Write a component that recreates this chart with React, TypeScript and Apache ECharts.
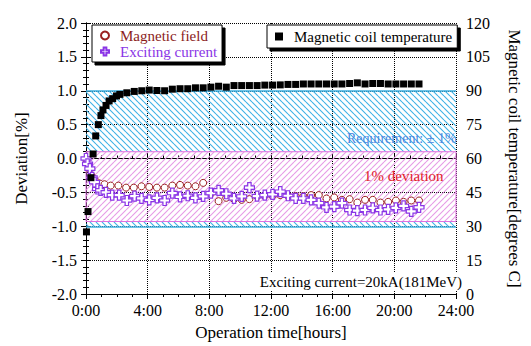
import React, { useEffect, useRef } from "react";
import * as echarts from "echarts";

// ---- data ----
const tempTimes = [0.03, 0.13, 0.32, 0.46, 0.63, 0.8, 0.97, 1.1, 1.3, 1.5, 1.73, 1.98, 2.2, 2.65, 3.13, 3.62, 4.1, 4.6, 5.1, 5.6, 6.1, 6.6, 7.1, 7.6, 8.1, 8.6, 9.1, 9.6, 10.1, 10.6, 11.1, 11.6, 12.1, 12.6, 13.1, 13.6, 14.1, 14.6, 15.1, 15.6, 16.1, 16.6, 17.1, 17.6, 18.1, 18.6, 19.1, 19.6, 20.1, 20.6, 21.1, 21.6];
const tempValues = [27.5, 36.5, 51.5, 62, 70, 75, 79, 81.5, 83.5, 85.5, 86.5, 87.7, 88.4, 89.1, 89.7, 90, 90.3, 90.1, 90, 90.7, 90.9, 90.9, 91.3, 91.3, 91.6, 92, 91.6, 92.3, 92.3, 92.3, 92.3, 92.5, 92.5, 92.6, 92.8, 92.8, 93, 93, 93, 93, 93, 93, 93.2, 93.5, 93, 93.2, 93.2, 93, 93, 93, 93, 93];

const fieldTimes = [0.03, 0.2, 0.35, 0.5, 0.7, 0.9, 1.2, 1.6, 2.1, 2.6, 3.1, 3.6, 4.1, 4.6, 5.1, 5.6, 6.1, 6.6, 7.1, 7.6, 8.1, 8.6, 9.1, 9.6, 10.1, 10.6, 11.1, 11.6, 12.1, 12.6, 13.1, 13.6, 14.1, 14.6, 15.1, 15.6, 16.1, 16.6, 17.1, 17.6, 18.1, 18.6, 19.1, 19.6, 20.1, 20.6, 21.1, 21.6];
const fieldValues = [-0.02, -0.15, -0.25, -0.3, -0.35, -0.37, -0.38, -0.4, -0.4, -0.43, -0.43, -0.41, -0.42, -0.43, -0.43, -0.4, -0.39, -0.4, -0.41, -0.36, -0.52, -0.63, -0.58, -0.6, -0.61, -0.6, -0.56, -0.55, -0.55, -0.54, -0.55, -0.555, -0.555, -0.54, -0.54, -0.59, -0.575, -0.61, -0.6, -0.65, -0.61, -0.61, -0.65, -0.64, -0.62, -0.64, -0.62, -0.62];

const currentTimes = [0.0, 0.1, 0.25, 0.4, 0.55, 0.75, 0.95, 1.3, 1.7, 2.15, 2.65, 3.15, 3.6, 4.1, 4.6, 5.1, 5.6, 6.1, 6.6, 7.1, 7.6, 8.1, 8.6, 9.1, 9.6, 10.1, 10.6, 11.1, 11.6, 12.1, 12.6, 13.1, 13.6, 14.1, 14.6, 15.1, 15.6, 16.1, 16.6, 17.1, 17.6, 18.1, 18.6, 19.1, 19.6, 20.1, 20.6, 21.1, 21.6];
const currentValues = [0.0, -0.08, -0.15, -0.28, -0.35, -0.45, -0.47, -0.5, -0.54, -0.54, -0.62, -0.555, -0.59, -0.61, -0.58, -0.62, -0.51, -0.565, -0.55, -0.58, -0.56, -0.51, -0.47, -0.52, -0.59, -0.56, -0.43, -0.555, -0.54, -0.53, -0.49, -0.55, -0.59, -0.59, -0.61, -0.66, -0.72, -0.71, -0.66, -0.76, -0.77, -0.76, -0.73, -0.76, -0.75, -0.73, -0.7, -0.78, -0.72];

const requirementBand = [1.0, -1.0];
const deviationBand = [0.1, -0.93];

const leftTicks = { min: -2, max: 2, interval: 0.5 };
const rightTicks = { min: 0, max: 120, interval: 15 };
const timeTicks = { min: 0, max: 24, interval: 4 };

const SERIF = "'Liberation Serif', 'Times New Roman', 'DejaVu Serif', serif";

function hatch(color: string, dir: "back" | "fwd", size = 6) {
  const c = document.createElement("canvas");
  c.width = size;
  c.height = size;
  const ctx = c.getContext("2d")!;
  ctx.strokeStyle = color;
  ctx.lineWidth = 1.1;
  ctx.beginPath();
  for (const k of [-size, 0, size]) {
    if (dir === "back") {
      ctx.moveTo(0, k);
      ctx.lineTo(size, size + k);
    } else {
      ctx.moveTo(0, size + k);
      ctx.lineTo(size, k);
    }
  }
  ctx.stroke();
  return { image: c, repeat: "repeat" } as any;
}

const zip = (a: number[], b: number[]) => a.map((v, i) => [v, b[i]]);

export default function App() {
  const ref = useRef<HTMLDivElement>(null);
  useEffect(() => {
    const chart = echarts.init(ref.current!, null, { renderer: "svg" });
    const cyan = hatch("#3fb2e6", "back");
    const pink = hatch("#e69ce6", "fwd");
    const axisCommon = {
      axisLine: { show: true, lineStyle: { color: "#000", width: 1 } },
      axisTick: { show: true, inside: true, length: 5, lineStyle: { color: "#000" } },
      minorTick: { show: true, length: 3, lineStyle: { color: "#000" } },
      axisLabel: { color: "#000", fontSize: 16, fontFamily: SERIF },
      nameTextStyle: { color: "#000", fontSize: 17, fontFamily: SERIF },
    };
    const option: any = {
      animation: false,
      backgroundColor: "#fff",
      textStyle: { fontFamily: SERIF },
      grid: { left: 86, top: 23, right: 65, bottom: 47 },
      legend: [
        {
          data: [
            { name: "Magnetic field", textStyle: { color: "#8b1c1c", fontFamily: SERIF } },
            { name: "Exciting current", textStyle: { color: "#8a35e6", fontFamily: SERIF } },
          ],
          orient: "vertical",
          left: 92,
          top: 25,
          itemWidth: 20,
          itemHeight: 8,
          itemGap: 1,
          padding: [3, 5, 3, 8],
          textStyle: { fontSize: 15, fontFamily: SERIF },
          backgroundColor: "#fff",
          borderColor: "#000",
          borderWidth: 1,
          shadowColor: "#000",
          shadowBlur: 0,
          shadowOffsetX: 3,
          shadowOffsetY: 3,
          selectedMode: false,
        },
        {
          data: [
            {
              name: "Magnetic coil temperature",
              icon: "path://M0,0H10V10H0Z",
              textStyle: { color: "#000", fontFamily: SERIF },
            },
          ],
          left: 267,
          top: 25,
          itemWidth: 20,
          itemHeight: 8,
          symbolKeepAspect: true,
          padding: [4, 5, 4, 8],
          textStyle: { fontSize: 15, fontFamily: SERIF },
          backgroundColor: "#fff",
          borderColor: "#000",
          borderWidth: 1,
          shadowColor: "#000",
          shadowBlur: 0,
          shadowOffsetX: 3,
          shadowOffsetY: 3,
          selectedMode: false,
        },
      ],
      xAxis: [
        {
          type: "value",
          ...timeTicks,
          position: "bottom",
          ...axisCommon,
          minorTick: { ...axisCommon.minorTick, splitNumber: 4 },
          axisLabel: { ...axisCommon.axisLabel, margin: 8, formatter: (v: number) => `${v}:00` },
          splitLine: { show: true, lineStyle: { color: "#000", type: "dotted", width: 1 } },
          name: "Operation time[hours]",
          nameLocation: "middle",
          nameGap: 30,
        },
        {
          type: "value",
          ...timeTicks,
          position: "top",
          ...axisCommon,
          minorTick: { ...axisCommon.minorTick, splitNumber: 4 },
          axisLabel: { show: false },
          splitLine: { show: false },
        },
      ],
      yAxis: [
        {
          type: "value",
          ...leftTicks,
          position: "left",
          ...axisCommon,
          minorTick: { ...axisCommon.minorTick, splitNumber: 5 },
          axisLabel: { ...axisCommon.axisLabel, margin: 9, formatter: (v: number) => v.toFixed(1) },
          splitLine: { show: true, lineStyle: { color: "#000", type: "dotted", width: 1 } },
          name: "Deviation[%]",
          nameLocation: "middle",
          nameGap: 56,
          nameRotate: 90,
        },
        {
          type: "value",
          ...rightTicks,
          position: "right",
          ...axisCommon,
          minorTick: { ...axisCommon.minorTick, splitNumber: 5 },
          axisLabel: { ...axisCommon.axisLabel, margin: 10 },
          splitLine: { show: false },
          name: "Magnetic coil temperature[degrees C]",
          nameLocation: "middle",
          nameGap: 50,
          nameRotate: -90,
        },
      ],
      series: [
        {
          name: "bands",
          type: "line",
          xAxisIndex: 0,
          yAxisIndex: 0,
          data: [],
          silent: true,
          z: 1,
          markArea: {
            silent: true,
            label: { show: false },
            data: [
              [
                { yAxis: requirementBand[0], itemStyle: { color: cyan, borderWidth: 0, opacity: 1 } },
                { yAxis: deviationBand[0] },
              ],
              [
                { yAxis: deviationBand[1], itemStyle: { color: cyan, borderWidth: 0, opacity: 1 } },
                { yAxis: requirementBand[1] },
              ],
              [
                { yAxis: deviationBand[0], itemStyle: { color: pink, borderColor: "#e070e0", borderWidth: 1, opacity: 1 } },
                { yAxis: deviationBand[1] },
              ],
            ],
          },
          markLine: {
            silent: true,
            symbol: "none",
            label: { show: false },
            lineStyle: { color: "#3fb0e0", width: 1.5, type: "solid" },
            data: [{ yAxis: requirementBand[0] }, { yAxis: requirementBand[1] }],
          },
        },
        {
          name: "Magnetic field",
          type: "scatter",
          xAxisIndex: 0,
          yAxisIndex: 0,
          symbol: "circle",
          symbolSize: 7,
          itemStyle: { color: "#fff", borderColor: "#9a2020", borderWidth: 1, opacity: 1 },
          data: zip(fieldTimes, fieldValues),
          z: 3,
        },
        {
          name: "Exciting current",
          type: "scatter",
          xAxisIndex: 0,
          yAxisIndex: 0,
          symbol: "path://M3.3,0H6.7V3.3H10V6.7H6.7V10H3.3V6.7H0V3.3H3.3Z",
          symbolSize: 10,
          symbolKeepAspect: true,
          itemStyle: { color: "#fff", borderColor: "#8a35e6", borderWidth: 1.2, opacity: 1 },
          data: zip(currentTimes, currentValues),
          z: 4,
        },
        {
          name: "Magnetic coil temperature",
          type: "scatter",
          xAxisIndex: 0,
          yAxisIndex: 1,
          symbol: "rect",
          symbolSize: 7,
          itemStyle: { color: "#000", opacity: 1 },
          data: zip(tempTimes, tempValues),
          z: 5,
        },
      ],
      graphic: [
        {
          type: "text",
          left: 347,
          top: 131,
          z: 10,
          style: { text: "Requirement: ± 1%", fill: "#4a86e0", font: `14px ${SERIF}` },
        },
        {
          type: "text",
          left: 364,
          top: 168,
          z: 10,
          style: { text: "1% deviation", fill: "#e2202a", font: `15px ${SERIF}` },
        },
        {
          type: "text",
          right: 68,
          top: 273,
          z: 10,
          style: {
            text: "Exciting current=20kA(181MeV)",
            fill: "#000",
            font: `15px ${SERIF}`,
            backgroundColor: "#fff",
            padding: [1, 1, 1, 2],
          },
        },
      ],
    };
    chart.setOption(option);
    return () => chart.dispose();
  }, []);
  return (
    <div
      ref={ref}
      style={{ position: "fixed", left: 0, top: 0, width: 531, height: 346, background: "#fff" }}
    />
  );
}
